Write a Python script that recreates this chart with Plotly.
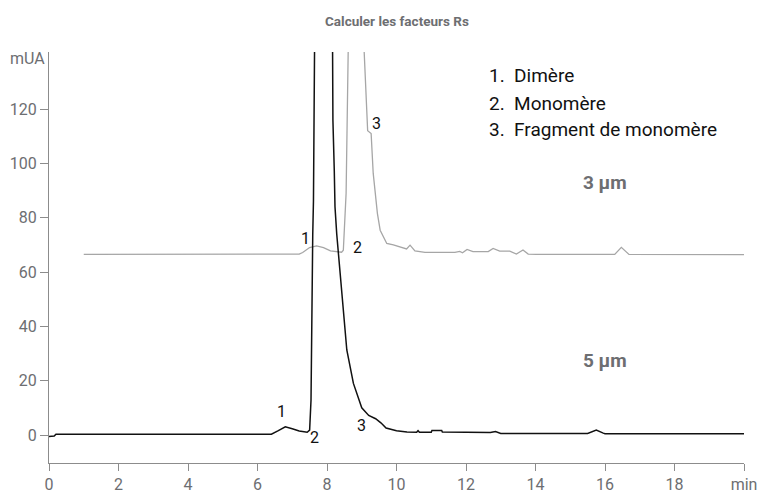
import plotly.graph_objects as go

# ---- data ----
# 5 µm column (black trace)
t5 = [0.0, 0.15, 0.2, 6.4, 6.6, 6.8, 7.0, 7.2, 7.43, 7.5, 7.54, 7.56, 7.59, 7.61, 7.62,
      7.7, 7.9, 8.1, 8.16, 8.17, 8.21, 8.23, 8.28, 8.36, 8.45, 8.57, 8.76, 9.0, 9.2, 9.4,
      9.55, 9.7, 10.0, 10.3, 10.58, 10.62, 10.66, 10.7, 11.0, 11.02, 11.3, 11.32, 12.0,
      12.7, 12.85, 13.0, 15.5, 15.75, 15.95, 16.0, 20.0]
a5 = [-0.5, -0.4, 0.3, 0.3, 1.6, 3.0, 2.3, 1.5, 1.0, 1.8, 12.9, 43.5, 74.0, 86.0, 145.0,
      300.0, 600.0, 300.0, 145.0, 116.0, 97.0, 84.0, 74.0, 62.0, 48.0, 31.3, 19.0, 10.0, 7.2, 6.0,
      4.5, 2.6, 1.6, 1.1, 1.0, 1.6, 1.0, 1.0, 1.0, 1.7, 1.7, 1.1, 0.9,
      0.9, 1.3, 0.6, 0.6, 1.8, 0.7, 0.5, 0.5]

# 3 µm column (grey trace)
t3 = [1.0, 6.5, 7.2, 7.3, 7.5, 7.7, 7.9, 8.1, 8.28, 8.42, 8.47, 8.52, 8.55, 8.62, 8.8,
      9.0, 9.07, 9.17, 9.27, 9.33, 9.45, 9.53, 9.62, 9.72, 9.91, 10.2, 10.29, 10.39, 10.53,
      10.82, 11.68, 11.82, 11.9, 12.03, 12.2, 12.64, 12.78, 12.97, 13.26, 13.45, 13.64,
      13.79, 14.03, 16.28, 16.47, 16.69, 20.0]
a3 = [66.5, 66.5, 66.6, 67.2, 69.0, 69.6, 69.0, 67.8, 67.5, 67.3, 68.0, 79.0, 89.0, 150.0, 400.0,
      200.0, 141.0, 112.0, 111.0, 96.3, 81.6, 75.4, 73.0, 70.5, 70.0, 68.7, 68.5, 69.9, 67.8,
      67.2, 67.2, 67.6, 67.1, 68.3, 67.5, 67.5, 68.7, 67.7, 67.7, 66.6, 68.1,
      66.6, 66.5, 66.5, 69.1, 66.5, 66.4]

x_ticks = [0, 2, 4, 6, 8, 10, 12, 14, 16, 18, 20]
x_tick_labels = ["0", "2", "4", "6", "8", "10", "12", "14", "16", "18", "min"]
y_ticks = [0, 20, 40, 60, 80, 100, 120]

peak_labels_5 = ["1", "2", "3"]
peak_labels_3 = ["1", "2", "3"]
legend_items = ["1.\u00a0\u00a0Dimère", "2.\u00a0\u00a0Monomère", "3.\u00a0\u00a0Fragment de monomère"]

# ---- figure ----
FONT = "Roboto, Liberation Sans, sans-serif"
GREY_TXT = "#6d6e71"
AXIS = "#8c8c8c"

fig = go.Figure()
fig.add_trace(go.Scatter(x=t3, y=a3, mode="lines", line=dict(color="#a6a6a6", width=1.3),
                         hoverinfo="skip", showlegend=False))
fig.add_trace(go.Scatter(x=t5, y=a5, mode="lines", line=dict(color="#111111", width=1.5),
                         hoverinfo="skip", showlegend=False))

ann = []
pos5 = [(6.68, 8.8), (7.64, -0.9), (9.0, 3.4)]
for lab, (x, y) in zip(peak_labels_5, pos5):
    ann.append(dict(x=x, y=y, text=lab, showarrow=False, font=dict(size=16, color="#111111")))
pos3 = [(7.37, 72.4), (8.88, 69.0), (9.42, 114.7)]
for lab, (x, y) in zip(peak_labels_3, pos3):
    ann.append(dict(x=x, y=y, text=lab, showarrow=False, font=dict(size=16, color="#111111")))

leg_y = [132.5, 122.2, 112.3]
for txt, y in zip(legend_items, leg_y):
    ann.append(dict(x=12.6, y=y, text=txt, showarrow=False, xanchor="left",
                    font=dict(size=19, color="#111111")))

ann.append(dict(x=16.0, y=92.8, text="<b>3 µm</b>", showarrow=False,
                font=dict(size=19, color=GREY_TXT)))
ann.append(dict(x=16.0, y=27.6, text="<b>5 µm</b>", showarrow=False,
                font=dict(size=19, color=GREY_TXT)))
ann.append(dict(x=0, y=138.6, text="mUA", showarrow=False, xanchor="right", xshift=-2,
                font=dict(size=16, color=GREY_TXT)))
ann.append(dict(x=0.5, y=1.0, xref="paper", yref="paper", yanchor="middle", yshift=31,
                text="<b>Calculer les facteurs Rs</b>",
                showarrow=False, font=dict(size=13.5, color=GREY_TXT)))

fig.update_layout(
    width=759, height=493,
    margin=dict(l=49, r=15, t=52, b=30, autoexpand=False),
    paper_bgcolor="white", plot_bgcolor="white",
    font=dict(family=FONT, size=16, color=GREY_TXT),
    annotations=ann,
    showlegend=False,
)
fig.update_xaxes(range=[0, 20], tickvals=x_ticks, ticktext=x_tick_labels, automargin=False,
                 showline=True, linecolor=AXIS, linewidth=1.2,
                 ticks="outside", ticklen=7, tickcolor=AXIS, tickwidth=1.2,
                 showgrid=False, zeroline=False, tickfont=dict(size=16, color=GREY_TXT))
fig.update_yaxes(range=[-10.3, 141], tickvals=y_ticks, automargin=False,
                 showline=True, linecolor=AXIS, linewidth=1.2,
                 ticks="outside", ticklen=8, tickcolor=AXIS, tickwidth=1.2,
                 showgrid=False, zeroline=False, tickfont=dict(size=16, color=GREY_TXT))

# remove the browser's default 8 px body margin so the 759x493 figure fills the window
fig.write_html("out.html", config={"displayModeBar": False},
               post_script="document.body.style.margin='0';document.body.style.overflow='hidden';")
